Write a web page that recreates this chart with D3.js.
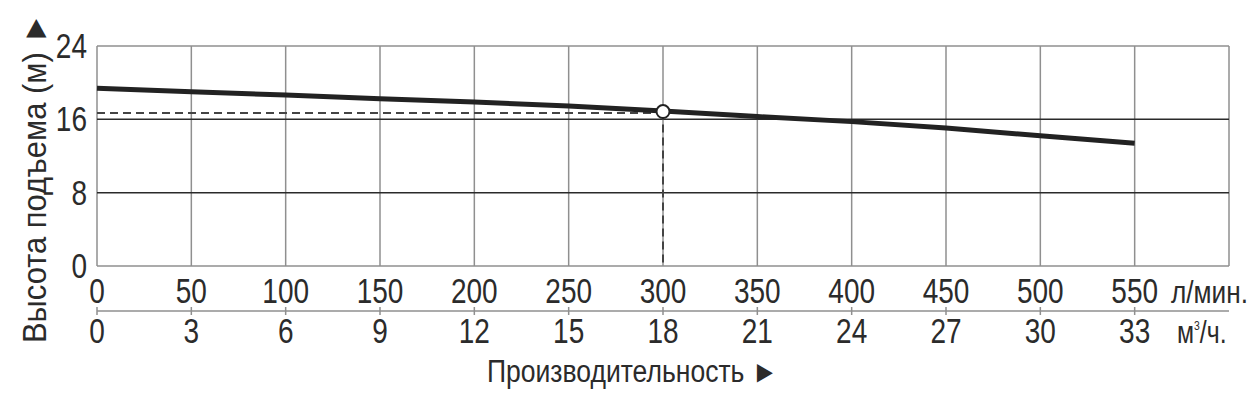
<!DOCTYPE html>
<html>
<head>
<meta charset="utf-8">
<script src="https://cdn.jsdelivr.net/npm/d3@7"></script>
<style>
  body { margin: 0; background: #fff; }
  text { font-family: "Liberation Sans", Arial, sans-serif; fill: #2b2b2b; }
</style>
</head>
<body>
<svg id="chart" width="1253" height="399"></svg>
<script>
// flow in l/min and head in m
const flowLpm = [0, 50, 100, 150, 200, 250, 300, 350, 400, 450, 500, 550];
const headM = [19.4, 19.0, 18.65, 18.25, 17.9, 17.45, 16.9, 16.3, 15.75, 15.05, 14.2, 13.4];
const headTicks = [0, 8, 16, 24];
const flowTicks = [0, 50, 100, 150, 200, 250, 300, 350, 400, 450, 500, 550];
const m3hTicks = [0, 3, 6, 9, 12, 15, 18, 21, 24, 27, 30, 33];
const dutyFlow = 300;
const dutyHead = 16.85;

const svg = d3.select("#chart");
const narrow = 0.8; // squeeze glyphs, the original uses a condensed face

const x = d3.scaleLinear().domain([0, 600]).range([97, 1229]);
const y = d3.scaleLinear().domain([0, 24]).range([266, 46]);

// vertical grid
svg.append("g").selectAll("line").data(d3.range(0, 650, 50))
  .join("line")
  .attr("x1", d => x(d)).attr("x2", d => x(d))
  .attr("y1", y(24)).attr("y2", y(0))
  .attr("stroke", "#8f8f8f")
  .attr("stroke-width", 1.5);

// horizontal grid
svg.append("g").selectAll("line").data(headTicks)
  .join("line")
  .attr("x1", x(0)).attr("x2", x(600))
  .attr("y1", d => y(d)).attr("y2", d => y(d))
  .attr("stroke", d => (d === 0 || d === 24) ? "#8f8f8f" : "#2a2a2a")
  .attr("stroke-width", 1.5);

// y tick labels
svg.append("g").selectAll("text").data(headTicks)
  .join("text")
  .attr("transform", d => `translate(87,${y(d) + 12}) scale(${narrow},1)`)
  .attr("text-anchor", "end")
  .attr("font-size", 35)
  .text(d => d);

// duty point guides
svg.append("line")
  .attr("x1", x(0)).attr("x2", x(dutyFlow))
  .attr("y1", y(dutyHead) + 1.5).attr("y2", y(dutyHead) + 1.5)
  .attr("stroke", "#444").attr("stroke-width", 2)
  .attr("stroke-dasharray", "8,5");
svg.append("line")
  .attr("x1", x(dutyFlow)).attr("x2", x(dutyFlow))
  .attr("y1", y(dutyHead)).attr("y2", y(0))
  .attr("stroke", "#444").attr("stroke-width", 2)
  .attr("stroke-dasharray", "8,5");

// curve
const line = d3.line().x((d, i) => x(flowLpm[i])).y(d => y(d));
svg.append("path")
  .datum(headM)
  .attr("d", line)
  .attr("fill", "none")
  .attr("stroke", "#222")
  .attr("stroke-width", 5);

svg.append("circle")
  .attr("cx", x(dutyFlow)).attr("cy", y(dutyHead))
  .attr("r", 6.5)
  .attr("fill", "#fff")
  .attr("stroke", "#222")
  .attr("stroke-width", 2);

// flow axis l/min
svg.append("g").selectAll("text").data(flowTicks)
  .join("text")
  .attr("transform", d => `translate(${x(d)},303) scale(${narrow},1)`)
  .attr("text-anchor", "middle")
  .attr("font-size", 35)
  .text(d => d);
svg.append("text")
  .attr("x", 1171).attr("y", 303)
  .attr("font-size", 31)
  .attr("textLength", 77)
  .attr("lengthAdjust", "spacingAndGlyphs")
  .text("л/мин.");

// second axis m3/h
const yAx2 = 311;
svg.append("line")
  .attr("x1", x(0)).attr("x2", x(600))
  .attr("y1", yAx2).attr("y2", yAx2)
  .attr("stroke", "#8f8f8f").attr("stroke-width", 1.5);
svg.append("g").selectAll("line").data(flowTicks)
  .join("line")
  .attr("x1", d => x(d)).attr("x2", d => x(d))
  .attr("y1", yAx2 - 4).attr("y2", yAx2 + 4)
  .attr("stroke", "#8f8f8f").attr("stroke-width", 1.5);
svg.append("g").selectAll("text").data(m3hTicks)
  .join("text")
  .attr("transform", (d, i) => `translate(${x(flowTicks[i])},343) scale(${narrow},1)`)
  .attr("text-anchor", "middle")
  .attr("font-size", 35)
  .text(d => d);
const unit = svg.append("text")
  .attr("transform", `translate(1177,343) scale(${narrow},1)`)
  .attr("font-size", 31);
unit.append("tspan").text("м");
unit.append("tspan").attr("dy", -13).attr("font-size", 13).text("3");
unit.append("tspan").attr("dy", 13).text("/ч.");

// axis titles
svg.append("text")
  .attr("x", 487).attr("y", 382)
  .attr("font-size", 31)
  .attr("textLength", 291)
  .attr("lengthAdjust", "spacingAndGlyphs")
  .text("Производительность ►");

svg.append("text")
  .attr("transform", "translate(46,343) rotate(-90)")
  .attr("font-size", 34)
  .attr("textLength", 330)
  .attr("lengthAdjust", "spacingAndGlyphs")
  .text("Высота подъема (м) ►");
</script>
</body>
</html>
